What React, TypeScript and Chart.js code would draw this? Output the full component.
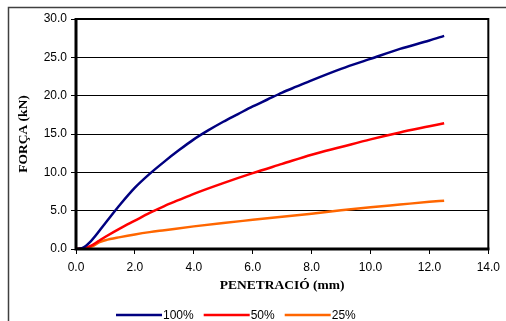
import React, { useEffect, useRef } from "react";
import { Chart, registerables } from "chart.js";

Chart.register(...registerables);

const seriesLabels = ["100%", "50%", "25%"];
const seriesColors = ["#000080", "#ff0000", "#ff6600"];

const pen100 = [0, 0.2, 0.5, 1.0, 1.5, 2.0, 2.5, 3.0, 3.5, 4.0, 4.5, 5.0, 5.5, 6.0, 6.5, 7.0, 7.5, 8.0, 9.0, 10.0, 11.0, 12.0, 12.5];
const force100 = [0, 0.1, 1.0, 3.4, 5.8, 8.0, 9.8, 11.4, 12.9, 14.3, 15.5, 16.6, 17.6, 18.6, 19.5, 20.4, 21.2, 22.0, 23.5, 24.8, 26.1, 27.2, 27.8];

const pen50 = [0, 0.3, 0.5, 0.75, 1.0, 1.5, 2.0, 2.5, 3.0, 3.5, 4.0, 5.0, 6.0, 7.0, 8.0, 9.0, 10.0, 11.0, 12.0, 12.5];
const force50 = [0, 0.1, 0.4, 1.0, 1.6, 2.7, 3.7, 4.7, 5.6, 6.4, 7.2, 8.6, 9.9, 11.1, 12.3, 13.3, 14.3, 15.2, 16.0, 16.4];

const pen25 = [0, 0.3, 0.55, 0.8, 1.0, 1.5, 2.0, 2.5, 3.0, 4.0, 5.0, 6.0, 7.0, 8.0, 9.0, 10.0, 11.0, 12.0, 12.5];
const force25 = [0, 0.1, 0.35, 0.9, 1.15, 1.55, 1.9, 2.2, 2.45, 2.95, 3.4, 3.8, 4.2, 4.6, 5.05, 5.45, 5.8, 6.15, 6.3];

const xTitle = "PENETRACIÓ (mm)";
const yTitle = "FORÇA (kN)";

const toPoints = (xs: number[], ys: number[]) => xs.map((x, i) => ({ x, y: ys[i] }));

export default function App() {
  const ref = useRef<HTMLCanvasElement | null>(null);

  useEffect(() => {
    if (!ref.current) return;
    const sans = "'Liberation Sans', Arial, sans-serif";
    const serif = "'Liberation Serif', 'Times New Roman', serif";

    const framePlugin = {
      id: "frame",
      beforeDraw(chart: any) {
        const ctx = chart.ctx;
        ctx.save();
        ctx.fillStyle = "#ffffff";
        ctx.fillRect(0, 0, chart.width, chart.height);
        ctx.strokeStyle = "#404040";
        ctx.lineWidth = 1.5;
        ctx.strokeRect(8.5, 7.5, 700, 500);
        ctx.restore();
      },
      afterDatasetsDraw(chart: any) {
        const { ctx, chartArea } = chart;
        ctx.save();
        ctx.strokeStyle = "#000";
        ctx.lineWidth = 2;
        ctx.strokeRect(chartArea.left, chartArea.top, chartArea.right - chartArea.left, chartArea.bottom - chartArea.top);
        ctx.lineWidth = 3;
        ctx.beginPath();
        ctx.moveTo(chartArea.left, chartArea.top - 1);
        ctx.lineTo(chartArea.left, chartArea.bottom);
        ctx.lineTo(chartArea.right + 1, chartArea.bottom);
        ctx.stroke();
        ctx.restore();
      },
      afterDraw(chart: any) {
        const ctx = chart.ctx;
        ctx.save();
        ctx.font = `12px ${sans}`;
        ctx.textBaseline = "middle";
        ctx.textAlign = "left";
        let x = 116;
        const y = 315;
        chart.data.datasets.forEach((ds: any) => {
          ctx.strokeStyle = ds.borderColor;
          ctx.lineWidth = 2.5;
          ctx.beginPath();
          ctx.moveTo(x, y);
          ctx.lineTo(x + 46, y);
          ctx.stroke();
          x += 47;
          ctx.fillStyle = "#000";
          ctx.fillText(ds.label, x, y + 1);
          x += ctx.measureText(ds.label).width + 10;
        });
        ctx.restore();
      },
    };

    const chart = new Chart(ref.current, {
      type: "line",
      data: {
        datasets: [
          { label: seriesLabels[0], data: toPoints(pen100, force100), borderColor: seriesColors[0] },
          { label: seriesLabels[1], data: toPoints(pen50, force50), borderColor: seriesColors[1] },
          { label: seriesLabels[2], data: toPoints(pen25, force25), borderColor: seriesColors[2] },
        ].map((d) => ({
          ...d,
          borderWidth: 2.5,
          pointRadius: 0,
          fill: false,
          cubicInterpolationMode: "monotone" as const,
        })),
      },
      options: {
        animation: false,
        responsive: false,
        devicePixelRatio: 1,
        layout: { padding: { left: 0, right: 16, top: 19, bottom: 27 } },
        plugins: { legend: { display: false }, tooltip: { enabled: false } },
        scales: {
          x: {
            type: "linear",
            min: 0,
            max: 14,
            ticks: {
              stepSize: 2,
              color: "#000",
              font: { family: sans, size: 12 },
              padding: 6,
              maxRotation: 0,
              callback: (v: any) => Number(v).toFixed(1),
            },
            grid: { drawOnChartArea: false, color: "#000", tickLength: 5, lineWidth: 1 },
            border: { display: true, color: "#000", width: 2 },
            title: {
              display: true,
              text: xTitle,
              color: "#000",
              font: { family: serif, size: 13.5, weight: "bold" },
              padding: { top: 0, bottom: 0 },
            },
            afterFit: (s: any) => {
              s.height = 45;
            },
          },
          y: {
            type: "linear",
            min: 0,
            max: 30,
            ticks: {
              stepSize: 5,
              color: "#000",
              font: { family: sans, size: 12 },
              padding: 4,
              callback: (v: any) => Number(v).toFixed(1),
            },
            grid: { color: "#000", tickLength: 5, lineWidth: 1 },
            border: { display: true, color: "#000", width: 2 },
            title: {
              display: true,
              text: yTitle,
              color: "#000",
              font: { family: serif, size: 13.5, weight: "bold" },
              padding: { top: 15, bottom: 0 },
            },
            afterFit: (s: any) => {
              s.width = 76;
            },
          },
        },
      },
      plugins: [framePlugin],
    });
    return () => chart.destroy();
  }, []);

  return (
    <div style={{ position: "fixed", left: 0, top: 0, width: 506, height: 321 }}>
      <canvas ref={ref} width={506} height={321} style={{ display: "block", width: 506, height: 321 }} />
    </div>
  );
}
